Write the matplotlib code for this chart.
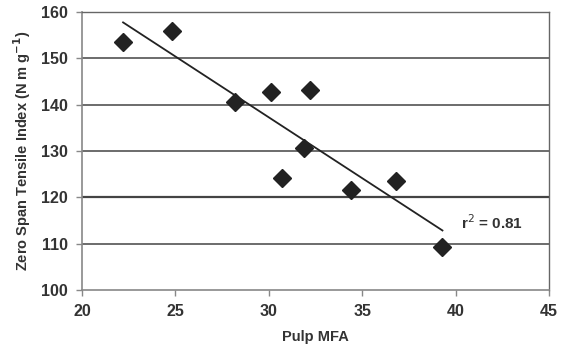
import numpy as np
import matplotlib
matplotlib.use("Agg")
import matplotlib.pyplot as plt

plt.rcParams['font.family'] = ['Liberation Sans', 'DejaVu Sans']

pulp_mfa = [22.2, 24.8, 28.2, 30.1, 30.7, 32.2, 31.9, 34.4, 36.8, 39.3]
zero_span = [153.5, 156.0, 140.6, 142.7, 124.1, 143.1, 130.6, 121.6, 123.5, 109.2]
x_ticks = [20, 25, 30, 35, 40, 45]
y_ticks = [100, 110, 120, 130, 140, 150, 160]
r2_text = "r$^2$ = 0.81"

fig = plt.figure(figsize=(5.67, 3.5), dpi=100)
ax = fig.add_axes([0.1446, 0.1714, 0.8235, 0.7943])

txt_col = '#333333'
grid_col = '#444444'

for yv in y_ticks[1:]:
    lw = 1.6 if yv == 120 else 1.1
    ax.axhline(yv, color=grid_col, lw=lw, zorder=1)

x = np.array(pulp_mfa)
y = np.array(zero_span)
slope, intercept = np.polyfit(x, y, 1)
xl = np.array([x.min(), x.max()])
ax.plot(xl, slope * xl + intercept, color='#222222', lw=1.3, zorder=2)

ax.plot(x, y, linestyle='none', marker='D', markersize=9.5, color='#222222', zorder=3)

ax.text(40.3, 114.6, r2_text, fontsize=11, fontweight='bold', color=txt_col,
        va='center', ha='left')

ax.set_xlim(20, 45)
ax.set_ylim(100, 160)
ax.set_xticks(x_ticks)
ax.set_yticks(y_ticks)
for s in ['left', 'bottom']:
    ax.spines[s].set_color('#888888')
    ax.spines[s].set_linewidth(1.2)
for s in ['top', 'right']:
    ax.spines[s].set_color('#666666')
    ax.spines[s].set_linewidth(1.0)
ax.tick_params(axis='both', direction='out', length=4, width=1, color='#888888',
               labelsize=11.5, labelcolor=txt_col, pad=6)
for lab in ax.get_xticklabels() + ax.get_yticklabels():
    lab.set_fontweight('bold')

ax.set_xlabel("Pulp MFA", fontsize=10.5, fontweight='bold', color=txt_col, labelpad=8)
ax.set_ylabel("Zero Span Tensile Index (N m g$^{\\mathbf{-1}}$)", fontsize=10.5,
              fontweight='bold', color=txt_col, labelpad=6)

fig.savefig("out.png", dpi=100)
